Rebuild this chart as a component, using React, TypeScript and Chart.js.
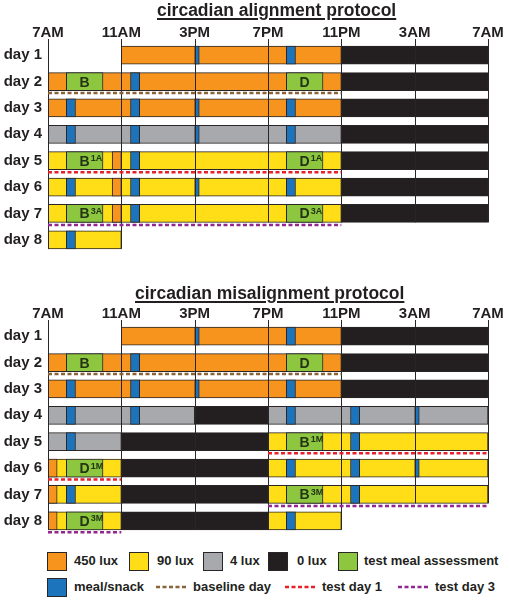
import React, { useEffect, useRef } from 'react';
import { Chart, registerables } from 'chart.js';

Chart.register(...registerables);

// ---------- data (hours after 7AM; rows are day numbers) ----------
type Seg = [number, number, number]; // [day, startHour, endHour]
type Test = [number, number, number, string, string]; // [day, start, end, letter, superscript]
type Dash = [number, number, number, string]; // [day, start, end, kind]

const dayLabels = ['day 1', 'day 2', 'day 3', 'day 4', 'day 5', 'day 6', 'day 7', 'day 8'];
const hourTicks = [0, 4, 8, 12, 16, 20, 24];
const tickLabels = ['7AM', '11AM', '3PM', '7PM', '11PM', '3AM', '7AM'];

// circadian alignment protocol
const alignLux450: Seg[] = [[1, 4, 16], [2, 0, 16], [3, 0, 16], [5, 3.5, 4], [6, 3.5, 4], [7, 3.5, 4]];
const alignLux90: Seg[] = [[5, 0, 16], [6, 0, 16], [7, 0, 16], [8, 0, 4]];
const alignLux4: Seg[] = [[4, 0, 16]];
const alignLux0: Seg[] = [[1, 16, 24], [2, 16, 24], [3, 16, 24], [4, 16, 24], [5, 16, 24], [6, 16, 24], [7, 16, 24]];
const alignMeals: Seg[] = [
  [1, 8, 8.25], [1, 13, 13.5],
  [2, 4.5, 5],
  [3, 1, 1.5], [3, 4.5, 5], [3, 8, 8.25], [3, 13, 13.5],
  [4, 1, 1.5], [4, 4.5, 5], [4, 8, 8.25], [4, 13, 13.5],
  [5, 4.5, 5],
  [6, 1, 1.5], [6, 4.5, 5], [6, 8, 8.25], [6, 13, 13.5],
  [7, 4.5, 5],
  [8, 1, 1.5],
];
const alignTests: Test[] = [
  [2, 1, 3, 'B', ''], [2, 13, 15, 'D', ''],
  [5, 1, 3, 'B', '1A'], [5, 13, 15, 'D', '1A'],
  [7, 1, 3, 'B', '3A'], [7, 13, 15, 'D', '3A'],
];
const alignDashes: Dash[] = [[2, 0, 16, 'baseline'], [5, 0, 16, 'test1'], [7, 0, 16, 'test3']];

// circadian misalignment protocol
const misLux450: Seg[] = [[1, 4, 16], [2, 0, 16], [3, 0, 16], [6, 0, 0.5], [7, 0, 0.5], [8, 0, 0.5]];
const misLux90: Seg[] = [[5, 12, 24], [6, 0, 4], [6, 12, 24], [7, 0, 4], [7, 12, 24], [8, 0, 4], [8, 12, 16]];
const misLux4: Seg[] = [[4, 0, 8], [4, 12, 24], [5, 0, 4]];
const misLux0: Seg[] = [[1, 16, 24], [2, 16, 24], [3, 16, 24], [4, 8, 12], [5, 4, 12], [6, 4, 12], [7, 4, 12], [8, 4, 12]];
const misMeals: Seg[] = [
  [1, 8, 8.25], [1, 13, 13.5],
  [2, 4.5, 5],
  [3, 1, 1.5], [3, 4.5, 5], [3, 8, 8.25], [3, 13, 13.5],
  [4, 1, 1.5], [4, 4.5, 5], [4, 13, 13.5], [4, 16.5, 17], [4, 20, 20.25],
  [5, 1, 1.5], [5, 16.5, 17],
  [6, 13, 13.5], [6, 16.5, 17], [6, 20, 20.25],
  [7, 1, 1.5], [7, 16.5, 17],
  [8, 13, 13.5],
];
const misTests: Test[] = [
  [2, 1, 3, 'B', ''], [2, 13, 15, 'D', ''],
  [5, 13, 15, 'B', '1M'], [6, 1, 3, 'D', '1M'],
  [7, 13, 15, 'B', '3M'], [8, 1, 3, 'D', '3M'],
];
const misDashes: Dash[] = [[2, 0, 16, 'baseline'], [5, 12, 24, 'test1'], [6, 0, 4, 'test1'], [7, 12, 24, 'test3'], [8, 0, 4, 'test3']];

const legendSwatchLabels = ['450 lux', '90 lux', '4 lux', '0 lux', 'test meal assessment', 'meal/snack'];
const legendLineLabels = ['baseline day', 'test day 1', 'test day 3'];

// ---------- styles ----------
const FONT = '"Liberation Sans", Arial, Helvetica, sans-serif';
const INK = '#231F20';
const EDGE = '#2a2627';
const COLORS = {
  lux450: '#F7941D',
  lux90: '#FFDD17',
  lux4: '#A7A9AC',
  lux0: '#231F20',
  test: '#8DC63F',
  meal: '#1C75BC',
};
const DASH_COLORS: Record<string, string> = { baseline: '#8C6239', test1: '#E8202A', test3: '#92278F' };
const LABEL_INK = '#243414';
const BAR_THICKNESS = 18;

type Panel = {
  lux450: Seg[]; lux90: Seg[]; lux4: Seg[]; lux0: Seg[]; meals: Seg[]; tests: Test[]; dashes: Dash[];
};

const alignPanel: Panel = {
  lux450: alignLux450, lux90: alignLux90, lux4: alignLux4, lux0: alignLux0,
  meals: alignMeals, tests: alignTests, dashes: alignDashes,
};
const misPanel: Panel = {
  lux450: misLux450, lux90: misLux90, lux4: misLux4, lux0: misLux0,
  meals: misMeals, tests: misTests, dashes: misDashes,
};

const toPoints = (segs: Array<Seg | Test>) => segs.map((s) => ({ y: dayLabels[s[0] - 1], x: [s[1], s[2]] }));

function overlayPlugin(panel: Panel) {
  return {
    id: 'protocolOverlay',
    afterDatasetsDraw(chart: any) {
      const { ctx, chartArea, scales } = chart;
      const xs = scales.x;
      const ys = scales.y;
      const half = BAR_THICKNESS / 2;
      const rowY = (d: number) => ys.getPixelForValue(d - 1);
      const base = [...panel.lux450, ...panel.lux90, ...panel.lux4, ...panel.lux0];
      ctx.save();
      // vertical hour lines, down to the last row that reaches that hour
      ctx.strokeStyle = EDGE;
      ctx.lineWidth = 1;
      hourTicks.forEach((t) => {
        const rows = base.filter(([, s, e]) => s <= t && t <= e).map(([d]) => d);
        if (!rows.length) return;
        const last = Math.max(...rows);
        const x = Math.round(xs.getPixelForValue(t)) + 0.5;
        ctx.beginPath();
        ctx.moveTo(x, chartArea.top - 3);
        ctx.lineTo(x, rowY(last) + half);
        ctx.stroke();
      });
      // dashed day markers
      panel.dashes.forEach(([d, s, e, kind]) => {
        ctx.strokeStyle = DASH_COLORS[kind];
        ctx.lineWidth = 2.5;
        ctx.setLineDash([4, 2.5]);
        const y = rowY(d) + half + 2.5;
        ctx.beginPath();
        ctx.moveTo(xs.getPixelForValue(s), y);
        ctx.lineTo(xs.getPixelForValue(e), y);
        ctx.stroke();
      });
      ctx.setLineDash([]);
      // test meal labels
      panel.tests.forEach(([d, s, e, letter, sup]) => {
        const cx = (xs.getPixelForValue(s) + xs.getPixelForValue(e)) / 2;
        const cy = rowY(d);
        ctx.fillStyle = LABEL_INK;
        ctx.textAlign = 'left';
        ctx.textBaseline = 'alphabetic';
        ctx.font = `bold 14px ${FONT}`;
        const w1 = ctx.measureText(letter).width;
        ctx.fillText(letter, cx - w1 / 2, cy + 5);
        if (sup) {
          ctx.font = `bold 9px ${FONT}`;
          ctx.fillText(sup, cx + w1 / 2 + 1, cy + 0.5);
        }
      });
      ctx.restore();
    },
  };
}

function buildConfig(panel: Panel): any {
  const common = {
    borderColor: EDGE,
    borderWidth: 1,
    borderSkipped: false,
    barThickness: BAR_THICKNESS,
    grouped: false,
  };
  return {
    type: 'bar',
    data: {
      labels: dayLabels,
      datasets: [
        { label: 'meal/snack', data: toPoints(panel.meals), backgroundColor: COLORS.meal, order: 0, ...common },
        { label: 'test meal assessment', data: toPoints(panel.tests), backgroundColor: COLORS.test, order: 0, ...common },
        { label: '450 lux', data: toPoints(panel.lux450), backgroundColor: COLORS.lux450, order: 1, ...common },
        { label: '90 lux', data: toPoints(panel.lux90), backgroundColor: COLORS.lux90, order: 2, ...common },
        { label: '4 lux', data: toPoints(panel.lux4), backgroundColor: COLORS.lux4, order: 3, ...common },
        { label: '0 lux', data: toPoints(panel.lux0), backgroundColor: COLORS.lux0, order: 4, ...common },
      ],
    },
    options: {
      indexAxis: 'y',
      responsive: false,
      animation: false,
      devicePixelRatio: 1,
      layout: { padding: { top: 24, right: 21, bottom: 5, left: 0 } },
      plugins: { legend: { display: false }, tooltip: { enabled: false }, title: { display: false } },
      scales: {
        x: {
          type: 'linear',
          position: 'top',
          min: 0,
          max: 24,
          grid: { display: false, drawTicks: false },
          border: { display: false },
          afterBuildTicks: (scale: any) => {
            scale.ticks = hourTicks.map((v) => ({ value: v }));
          },
          ticks: {
            autoSkip: false,
            maxRotation: 0,
            padding: 0,
            color: INK,
            font: { family: FONT, size: 15, weight: 'bold' },
            callback: (v: number) => tickLabels[hourTicks.indexOf(v)],
          },
        },
        y: {
          type: 'category',
          offset: true,
          grid: { display: false, drawTicks: false },
          border: { display: false },
          afterFit: (scale: any) => {
            scale.width = 48;
          },
          ticks: {
            padding: 6,
            color: INK,
            font: { family: FONT, size: 15, weight: 'bold' },
          },
        },
      },
    },
    plugins: [overlayPlugin(panel)],
  };
}

function ProtocolChart({ panel }: { panel: Panel }) {
  const ref = useRef<HTMLCanvasElement>(null);
  useEffect(() => {
    if (!ref.current) return;
    const chart = new Chart(ref.current, buildConfig(panel));
    return () => chart.destroy();
  }, [panel]);
  return <canvas ref={ref} width={509} height={268} style={{ display: 'block', width: 509, height: 268 }} />;
}

const titleStyle = (left: number, top: number): React.CSSProperties => ({
  position: 'absolute',
  left,
  top,
  fontSize: 17.5,
  lineHeight: '20px',
  fontWeight: 'bold',
  whiteSpace: 'nowrap',
  textDecoration: 'underline',
  textDecorationThickness: '1.5px',
  textUnderlineOffset: '2px',
});

const swatchColors = [COLORS.lux450, COLORS.lux90, COLORS.lux4, COLORS.lux0, COLORS.test, COLORS.meal];
const swatchPos = [[47, 552, 74], [129, 552, 157], [203, 552, 230], [268, 552, 297], [338, 552, 364], [47, 578, 74]];
const linePos = [[156, 587, 193], [285, 587, 322], [398, 587, 435]];
const lineKinds = ['baseline', 'test1', 'test3'];

export default function App() {
  useEffect(() => {
    document.body.style.margin = '0';
  }, []);
  const legendText: React.CSSProperties = {
    position: 'absolute',
    fontSize: 13,
    fontWeight: 'bold',
    lineHeight: '18px',
    whiteSpace: 'nowrap',
  };
  return (
    <div style={{ position: 'relative', width: 509, height: 601, overflow: 'hidden', fontFamily: FONT, color: INK, background: '#fff' }}>
      <div style={{ position: 'absolute', left: 0, top: 0 }}>
        <ProtocolChart panel={alignPanel} />
      </div>
      <div style={{ position: 'absolute', left: 0, top: 281 }}>
        <ProtocolChart panel={misPanel} />
      </div>
      <div style={titleStyle(157, 0)}>circadian alignment protocol</div>
      <div style={titleStyle(135, 283)}>circadian misalignment protocol</div>
      {legendSwatchLabels.map((label, i) => {
        const [x, y, tx] = swatchPos[i];
        return (
          <React.Fragment key={label}>
            <div style={{ position: 'absolute', left: x, top: y, width: 18, height: 17, background: swatchColors[i], border: `1px solid ${EDGE}` }} />
            <div style={{ ...legendText, left: tx, top: y }}>{label}</div>
          </React.Fragment>
        );
      })}
      {legendLineLabels.map((label, i) => {
        const [x, y, tx] = linePos[i];
        return (
          <React.Fragment key={label}>
            <svg style={{ position: 'absolute', left: x, top: y - 2 }} width={30} height={4}>
              <line x1={0} y1={2} x2={30} y2={2} stroke={DASH_COLORS[lineKinds[i]]} strokeWidth={2.5} strokeDasharray="4 2.5" />
            </svg>
            <div style={{ ...legendText, left: tx, top: y - 9 }}>{label}</div>
          </React.Fragment>
        );
      })}
    </div>
  );
}
